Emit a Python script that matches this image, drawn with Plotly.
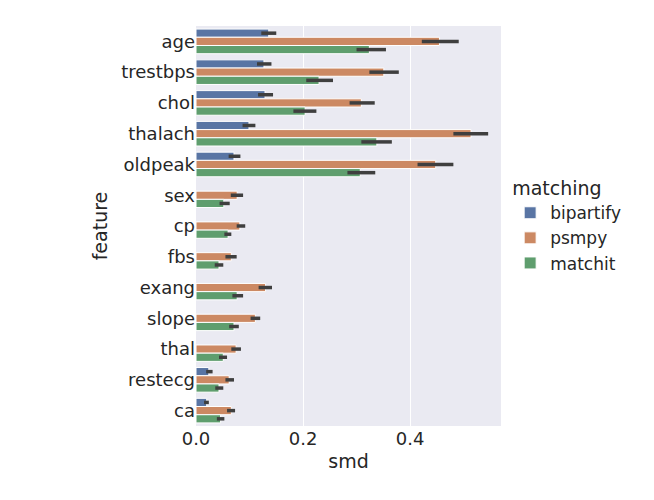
import plotly.graph_objects as go

features = ["age", "trestbps", "chol", "thalach", "oldpeak", "sex", "cp", "fbs",
            "exang", "slope", "thal", "restecg", "ca"]

# bar value, lower and upper end of the interval
bip = [0.136, 0.127, 0.129, 0.099, 0.071, None, None, None, None, None, None, 0.024, 0.020]
bip_lo = [0.122, 0.114, 0.116, 0.087, 0.061, None, None, None, None, None, None, 0.019, 0.015]
bip_hi = [0.150, 0.141, 0.144, 0.111, 0.083, None, None, None, None, None, None, 0.031, 0.024]

psm = [0.455, 0.351, 0.309, 0.514, 0.448, 0.077, 0.082, 0.066, 0.130, 0.111, 0.075, 0.062, 0.066]
psm_lo = [0.422, 0.324, 0.287, 0.481, 0.414, 0.065, 0.076, 0.055, 0.117, 0.102, 0.066, 0.055, 0.058]
psm_hi = [0.491, 0.379, 0.334, 0.546, 0.481, 0.088, 0.092, 0.076, 0.142, 0.120, 0.084, 0.071, 0.073]

mat = [0.324, 0.230, 0.204, 0.338, 0.307, 0.052, 0.060, 0.043, 0.077, 0.071, 0.051, 0.043, 0.046]
mat_lo = [0.300, 0.206, 0.182, 0.309, 0.283, 0.044, 0.053, 0.035, 0.068, 0.062, 0.043, 0.036, 0.039]
mat_hi = [0.355, 0.256, 0.225, 0.366, 0.335, 0.063, 0.066, 0.051, 0.088, 0.080, 0.058, 0.051, 0.053]

series = [
    ("bipartify", bip, bip_lo, bip_hi, "#5975A4"),
    ("psmpy", psm, psm_lo, psm_hi, "#CC8963"),
    ("matchit", mat, mat_lo, mat_hi, "#5F9E6E"),
]


def diff(a, b):
    return [None if x is None else x - y for x, y in zip(a, b)]


fig = go.Figure()
for name, v, lo, hi, col in series:
    fig.add_trace(go.Bar(
        y=features, x=v, orientation="h", name=name,
        marker=dict(color=col, line=dict(color="white", width=1)),
        error_x=dict(type="data", symmetric=False,
                     array=diff(hi, v), arrayminus=diff(v, lo),
                     color="#3F3F3F", thickness=3.5, width=0),
    ))

fig.update_layout(
    width=654, height=500,
    margin=dict(l=188, r=161, t=18, b=82),
    paper_bgcolor="white", plot_bgcolor="#EAEAF2",
    font=dict(family="DejaVu Sans", size=18, color="#262626"),
    barmode="group", bargap=0.2, bargroupgap=0,
    xaxis=dict(title=dict(text="smd", font=dict(size=19), standoff=6), range=[0, 0.57],
               tickvals=[0, 0.2, 0.4], ticktext=["0.0", "0.2", "0.4"],
               tickfont=dict(size=18), automargin=False,
               showgrid=True, gridcolor="white", gridwidth=1.2, zeroline=False),
    yaxis=dict(title=dict(text="feature", font=dict(size=19), standoff=8),
               autorange="reversed", tickfont=dict(size=18), automargin=False,
               showgrid=False, ticks="", ticklen=4),
    legend=dict(title=dict(text="matching", font=dict(size=19)), x=1.03, y=0.5,
                yanchor="middle", xanchor="left", font=dict(size=17),
                bgcolor="rgba(0,0,0,0)"),
)

fig.write_html("out.html")
